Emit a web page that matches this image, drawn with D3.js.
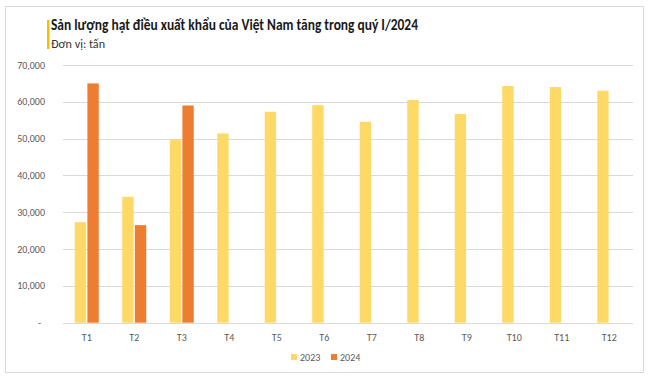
<!DOCTYPE html>
<html>
<head>
<meta charset="utf-8">
<script src="https://cdn.jsdelivr.net/npm/d3@7"></script>
<style>
  body { margin: 0; background: #fff; }
  svg { display: block; font-family: Carlito, Calibri, "Open Sans", sans-serif; }
</style>
</head>
<body>
<div id="chart"></div>
<script>
// Data (tấn)
const months = ["T1", "T2", "T3", "T4", "T5", "T6", "T7", "T8", "T9", "T10", "T11", "T12"];
const years = ["2023", "2024"];
const values2023 = [27300, 34200, 49700, 51400, 57300, 59100, 54600, 60500, 56700, 64300, 64000, 63000];
const values2024 = [65000, 26500, 59000, null, null, null, null, null, null, null, null, null];
const yTicks = [0, 10000, 20000, 30000, 40000, 50000, 60000, 70000];

const width = 649, height = 377;
const colors = { "2023": "#FFD966", "2024": "#ED7D31" };

const svg = d3.select("#chart")
  .append("svg")
  .attr("width", width)
  .attr("height", height);

// outer frame
svg.append("rect")
  .attr("x", 5.5).attr("y", 6.5)
  .attr("width", 638).attr("height", 366)
  .attr("fill", "none")
  .attr("stroke", "#D9D9D9");

// title block
svg.append("rect")
  .attr("x", 47).attr("y", 20)
  .attr("width", 2.5).attr("height", 29)
  .attr("fill", "#F5C000");

svg.append("text")
  .attr("x", 51).attr("y", 30)
  .attr("font-size", 16.5)
  .attr("font-weight", "bold")
  .attr("fill", "#1a1a1a")
  .attr("textLength", 367)
  .attr("lengthAdjust", "spacingAndGlyphs")
  .text("Sản lượng hạt điều xuất khẩu của Việt Nam tăng trong quý I/2024");

svg.append("text")
  .attr("x", 51).attr("y", 47.5)
  .attr("font-size", 11.5)
  .attr("fill", "#333")
  .attr("textLength", 54)
  .attr("lengthAdjust", "spacingAndGlyphs")
  .text("Đơn vị: tấn");

// scales
const x0 = d3.scaleBand()
  .domain(months)
  .range([63, 633]);

const x1 = d3.scaleBand()
  .domain(years)
  .range([0, 24])
  .paddingInner(0.1);

const y = d3.scaleLinear()
  .domain([0, 70000])
  .range([322.7, 65]);

// gridlines
svg.append("g")
  .selectAll("line")
  .data(yTicks)
  .join("line")
  .attr("x1", 63).attr("x2", 633)
  .attr("y1", d => Math.round(y(d)) + 0.5)
  .attr("y2", d => Math.round(y(d)) + 0.5)
  .attr("stroke", "#D9D9D9");

// y labels
svg.append("g")
  .selectAll("text")
  .data(yTicks)
  .join("text")
  .attr("x", d => d === 0 ? 41 : 45)
  .attr("y", d => y(d) + 3.5)
  .attr("text-anchor", "end")
  .attr("font-size", 10)
  .attr("fill", "#595959")
  .text(d => d === 0 ? "-" : d3.format(",")(d));

// bars
const rows = months.map((m, i) => ({ month: m, "2023": values2023[i], "2024": values2024[i] }));

const groups = svg.append("g")
  .selectAll("g")
  .data(rows)
  .join("g")
  .attr("transform", d => `translate(${x0(d.month) + x0.bandwidth() / 2 - 12},0)`);

groups.selectAll("rect")
  .data(d => years.filter(k => d[k] != null).map(k => ({ key: k, value: d[k] })))
  .join("rect")
  .attr("x", d => x1(d.key))
  .attr("width", x1.bandwidth())
  .attr("y", d => y(d.value))
  .attr("height", d => y(0) - y(d.value))
  .attr("fill", d => colors[d.key]);

// x labels
svg.append("g")
  .selectAll("text")
  .data(months)
  .join("text")
  .attr("x", d => x0(d) + x0.bandwidth() / 2)
  .attr("y", 341)
  .attr("text-anchor", "middle")
  .attr("font-size", 10)
  .attr("fill", "#595959")
  .text(d => d);

// legend
const legend = svg.append("g");
const legendX = [291, 331];
years.forEach((k, i) => {
  legend.append("rect")
    .attr("x", legendX[i]).attr("y", 354)
    .attr("width", 6).attr("height", 6)
    .attr("fill", colors[k]);
  legend.append("text")
    .attr("x", legendX[i] + 9).attr("y", 360.5)
    .attr("font-size", 10)
    .attr("fill", "#595959")
    .text(k);
});
</script>
</body>
</html>
